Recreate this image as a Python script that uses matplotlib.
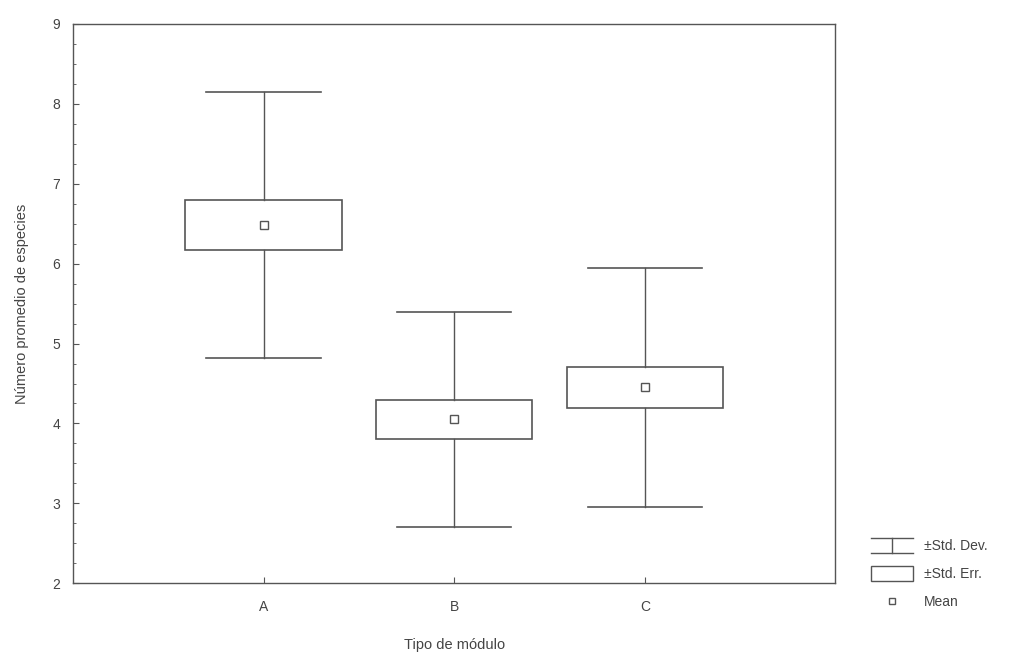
import matplotlib
matplotlib.use("Agg")
import numpy as np
import matplotlib.pyplot as plt
from matplotlib.lines import Line2D
from matplotlib.patches import Rectangle
from matplotlib.legend_handler import HandlerBase
from matplotlib.ticker import MultipleLocator

plt.rcParams['font.family'] = ['Liberation Sans', 'DejaVu Sans']

# values
categories = ['A', 'B', 'C']
means = [6.48, 4.05, 4.45]
std_dev = [1.66, 1.35, 1.50]
std_err = [0.31, 0.24, 0.26]

ink = '#555555'
text_col = '#444444'


class WhiskerHandler(HandlerBase):
    # little "I" glyph used for the ±Std. Dev. legend entry
    def create_artists(self, legend, orig_handle, xdescent, ydescent,
                       width, height, fontsize, trans):
        x0, x1 = -xdescent, -xdescent + width
        xm = (x0 + x1) / 2
        y0, y1 = -ydescent - 2, -ydescent + height + 2
        kw = dict(color=ink, lw=1.0, transform=trans)
        return [Line2D([x0, x1], [y1, y1], **kw),
                Line2D([x0, x1], [y0, y0], **kw),
                Line2D([xm, xm], [y0, y1], **kw)]


class BoxHandler(HandlerBase):
    # taller open rectangle for the ±Std. Err. legend entry
    def create_artists(self, legend, orig_handle, xdescent, ydescent,
                       width, height, fontsize, trans):
        r = Rectangle((-xdescent, -ydescent - 2), width, height + 4,
                      facecolor='white', edgecolor=ink, lw=1.0,
                      transform=trans)
        return [r]


fig = plt.figure(figsize=(10.22, 6.57), dpi=100)
ax = fig.add_axes([0.0714, 0.112, 0.746, 0.852])

x = np.arange(1, len(categories) + 1)
box_half = 0.41
cap_half = 0.30

for xi, m, sd, se in zip(x, means, std_dev, std_err):
    # std dev whiskers
    ax.plot([xi, xi], [m - sd, m - se], color=ink, lw=1.0)
    ax.plot([xi, xi], [m + se, m + sd], color=ink, lw=1.0)
    ax.plot([xi - cap_half, xi + cap_half], [m + sd, m + sd], color=ink, lw=1.2)
    ax.plot([xi - cap_half, xi + cap_half], [m - sd, m - sd], color=ink, lw=1.2)
    # std err box
    ax.add_patch(Rectangle((xi - box_half, m - se), 2 * box_half, 2 * se,
                           facecolor='white', edgecolor=ink, lw=1.2))
ax.plot(x, means, linestyle='none', marker='s', markersize=6,
        markerfacecolor='white', markeredgecolor=ink, markeredgewidth=1.0)

ax.set_xlim(0, 4)
ax.set_ylim(2, 9)
ax.set_xticks(x)
ax.set_xticklabels(categories)
ax.yaxis.set_major_locator(MultipleLocator(1))
ax.yaxis.set_minor_locator(MultipleLocator(0.25))
ax.tick_params(axis='both', direction='in', colors=ink, labelcolor=text_col,
               labelsize=10, length=4, width=0.8)
ax.tick_params(axis='y', which='minor', direction='in', length=2, color=ink)
ax.tick_params(axis='x', pad=12)
ax.tick_params(axis='y', pad=9)
for sp in ax.spines.values():
    sp.set_color(ink)
    sp.set_linewidth(1.0)

ax.set_xlabel('Tipo de módulo', fontsize=10.5, color=text_col, labelpad=17)
ax.set_ylabel('Número promedio de especies', fontsize=10.5, color=text_col,
              labelpad=17)

h_sd = object()
h_se = object()
h_mean = Line2D([], [], linestyle='none', marker='s', markersize=5,
                markerfacecolor='white', markeredgecolor=ink)
leg = fig.legend([h_sd, h_se, h_mean], ['±Std. Dev.', '±Std. Err.', 'Mean'],
                 handler_map={h_sd: WhiskerHandler(), h_se: BoxHandler()},
                 loc='upper left', bbox_to_anchor=(0.840, 0.198),
                 frameon=False, fontsize=10, handlelength=3.0,
                 handletextpad=0.8, labelspacing=1.0)
for t in leg.get_texts():
    t.set_color(text_col)

fig.savefig('out.png', dpi=100)
